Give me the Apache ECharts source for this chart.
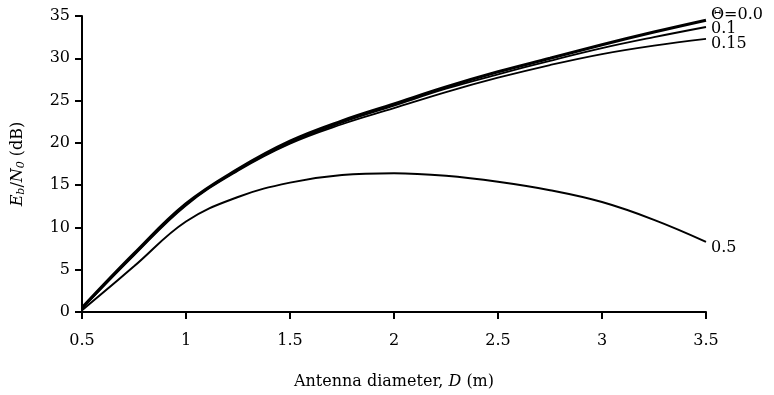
<!DOCTYPE html>
<html>
<head>
<meta charset="utf-8">
<script src="https://cdn.jsdelivr.net/npm/echarts@6/dist/echarts.min.js"></script>
<style>html,body{margin:0;padding:0;background:#fff}#c{width:774px;height:395px}</style>
</head>
<body>
<div id="c"></div>
<script>
var diameters = [0.5, 0.75, 1.0, 1.25, 1.5, 1.75, 2.0, 2.25, 2.5, 2.75, 3.0, 3.25, 3.5];
var theta00 = [0.5, 6.9, 12.8, 16.9, 20.2, 22.6, 24.6, 26.6, 28.4, 30.0, 31.6, 33.1, 34.5];
var theta01 = [0.5, 6.8, 12.7, 16.8, 20.0, 22.4, 24.4, 26.4, 28.1, 29.7, 31.2, 32.5, 33.7];
var theta015 = [0.4, 6.7, 12.6, 16.7, 19.9, 22.2, 24.1, 26.0, 27.7, 29.2, 30.5, 31.5, 32.3];
var theta05 = [0.2, 5.4, 10.7, 13.6, 15.3, 16.2, 16.4, 16.1, 15.4, 14.4, 13.0, 10.9, 8.3];
var seriesNames = ['\u0398=0.0', '0.1', '0.15', '0.5'];
var xTicks = ['0.5', '1', '1.5', '2', '2.5', '3', '3.5'];

var FONT = '"DejaVu Serif", "Liberation Serif", serif';
function pairs(v){ return diameters.map(function(d,i){ return [d, v[i]]; }); }
function mk(name, vals, w, off){
  return {
    type:'line', name:name, data:pairs(vals), smooth:0.4, showSymbol:false, symbol:'none',
    lineStyle:{color:'#000', width:w}, itemStyle:{color:'#000'},
    endLabel:{show:true, formatter:name, color:'#000', fontFamily:FONT, fontSize:16, distance:5, offset:off},
    animation:false
  };
}
var chart = echarts.init(document.getElementById('c'));
chart.setOption({
  animation:false,
  grid:{left:82, right:68, top:16, bottom:83},
  xAxis:{
    type:'value', min:0.5, max:3.5, interval:0.5,
    name:'Antenna diameter, {i|D} (m)', nameLocation:'middle', nameGap:62,
    nameTextStyle:{color:'#000', fontFamily:FONT, fontSize:16, rich:{i:{fontStyle:'italic', fontFamily:FONT, fontSize:16, color:'#000'}}},
    axisLine:{lineStyle:{color:'#000', width:2}},
    axisTick:{show:true, length:7, inside:false, lineStyle:{color:'#000', width:2}},
    axisLabel:{color:'#000', fontFamily:FONT, fontSize:16, margin:21,
      formatter:function(v){ var s = String(Math.round(v*10)/10); return xTicks.indexOf(s)>=0 ? s : ''; }},
    splitLine:{show:false}
  },
  yAxis:{
    type:'value', min:0, max:35, interval:5,
    name:'{i|E}{s|b}/{i|N}{s|0} (dB)', nameLocation:'middle', nameGap:55, nameRotate:90,
    nameTextStyle:{color:'#000', fontFamily:FONT, fontSize:16,
      rich:{i:{fontStyle:'italic', fontFamily:FONT, fontSize:16, color:'#000'},
            s:{fontStyle:'italic', fontFamily:FONT, fontSize:11, color:'#000', verticalAlign:'bottom', padding:[7,0,0,0]}}},
    axisLine:{show:true, lineStyle:{color:'#000', width:2}},
    axisTick:{show:true, length:7, inside:false, lineStyle:{color:'#000', width:2}},
    axisLabel:{color:'#000', fontFamily:FONT, fontSize:16, margin:12},
    splitLine:{show:false}
  },
  series:[
    mk(seriesNames[0], theta00, 3, [0,-5]),
    mk(seriesNames[1], theta01, 1.8, [0,2]),
    mk(seriesNames[2], theta015, 1.8, [0,5]),
    mk(seriesNames[3], theta05, 2, [0,6])
  ]
});
</script>
</body>
</html>
